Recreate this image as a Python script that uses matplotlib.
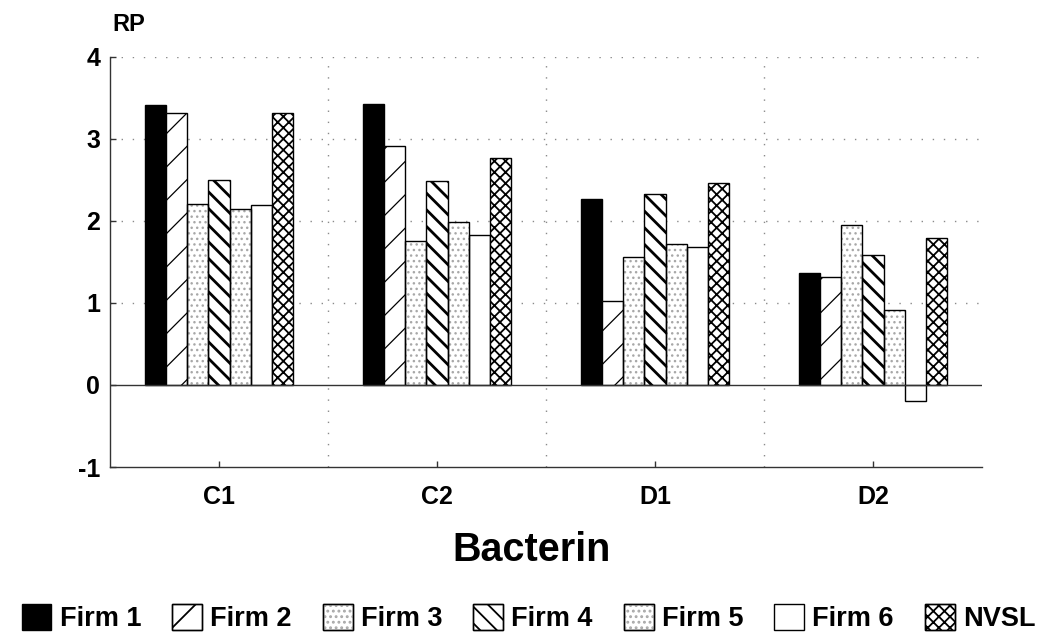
import numpy as np
import matplotlib as mpl
import matplotlib.pyplot as plt

mpl.rcParams["font.family"] = ["Liberation Sans", "DejaVu Sans"]
mpl.rcParams["font.weight"] = "bold"

# RP values per bacterin for each firm
bacterins = ["C1", "C2", "D1", "D2"]
firms = ["Firm 1", "Firm 2", "Firm 3", "Firm 4", "Firm 5", "Firm 6", "NVSL"]
firm1 = [3.41, 3.43, 2.27, 1.36]
firm2 = [3.32, 2.91, 1.02, 1.32]
firm3 = [2.20, 1.75, 1.56, 1.95]
firm4 = [2.50, 2.48, 2.33, 1.58]
firm5 = [2.14, 1.99, 1.72, 0.91]
firm6 = [2.19, 1.83, 1.68, -0.19]
nvsl = [3.32, 2.77, 2.46, 1.79]
series = [firm1, firm2, firm3, firm4, firm5, firm6, nvsl]
yticks = [-1, 0, 1, 2, 3, 4]

# fill, hatch, hatch colour, hatch width
styles = [
    ("black", None, "black", 1.0),
    ("white", "/", "black", 0.9),
    ("white", "...", "#a8a8a8", 1.0),
    ("white", "\\\\", "black", 2.0),
    ("white", "...", "#a8a8a8", 1.0),
    ("white", None, "black", 1.0),
    ("white", "xxx", "black", 1.3),
]

fig = plt.figure(figsize=(10.57, 6.38), dpi=100)
ax = fig.add_axes([0.104, 0.268, 0.825, 0.643])

x = np.arange(len(bacterins))
w = 0.097
handles = []
for i, (vals, (fc, hatch, hc, hlw)) in enumerate(zip(series, styles)):
    pos = x + (i - 3) * w
    mpl.rcParams["hatch.linewidth"] = hlw
    if hatch:
        # hatch layer drawn in its own colour, outline on top in black
        ax.bar(pos, vals, w, color=fc, edgecolor=hc, hatch=hatch, linewidth=0, zorder=3)
        ax.bar(pos, vals, w, fill=False, edgecolor="black", linewidth=1.0, zorder=4)
        h = mpl.patches.Patch(facecolor=fc, edgecolor="black", linewidth=1.0)
        h2 = mpl.patches.Patch(facecolor="none", edgecolor=hc, hatch=hatch, linewidth=0)
        handles.append((h, h2, mpl.patches.Patch(facecolor="none", edgecolor="black", linewidth=1.0)))
    else:
        ax.bar(pos, vals, w, color=fc, edgecolor="black", linewidth=1.0, zorder=3)
        handles.append(mpl.patches.Patch(facecolor=fc, edgecolor="black", linewidth=1.0))

ax.axhline(0, color="#333333", linewidth=1.0, zorder=5)

ax.set_xlim(-0.5, 3.5)
ax.set_ylim(-1, 4)
ax.set_xticks(x)
ax.set_xticklabels(bacterins, fontsize=18, fontweight="bold")
ax.set_yticks(yticks)
ax.set_yticklabels([str(t) for t in yticks], fontsize=18, fontweight="bold")
ax.tick_params(axis="both", direction="in", length=4, width=1.0, colors="#333333", labelcolor="black")
ax.tick_params(axis="x", pad=13)
ax.tick_params(axis="y", pad=7)

# dotted grid: horizontal at y ticks, vertical between groups
for yv in [1, 2, 3, 4]:
    ax.axhline(yv, color="#8a8a8a", linewidth=1.0, linestyle=(0, (1, 7)), zorder=1)
for xv in [0.5, 1.5, 2.5]:
    ax.axvline(xv, color="#8a8a8a", linewidth=1.0, linestyle=(0, (1, 7)), zorder=1)

for s in ["top", "right"]:
    ax.spines[s].set_visible(False)
for s in ["left", "bottom"]:
    ax.spines[s].set_color("#333333")
    ax.spines[s].set_linewidth(1.0)

fig.text(0.106, 0.961, "RP", fontsize=17, fontweight="bold", va="center", ha="left")
fig.text(0.503, 0.138, "Bacterin", fontsize=28.5, fontweight="bold", ha="center", va="center")

fig.legend(handles, firms, loc="center", bbox_to_anchor=(0.5, 0.031), ncol=7,
           frameon=False, prop={"weight": "bold", "size": 19.5},
           handlelength=1.1, handleheight=1.1, handletextpad=0.3, columnspacing=1.15,
           borderaxespad=0, borderpad=0)

fig.savefig("out.png", dpi=100)
